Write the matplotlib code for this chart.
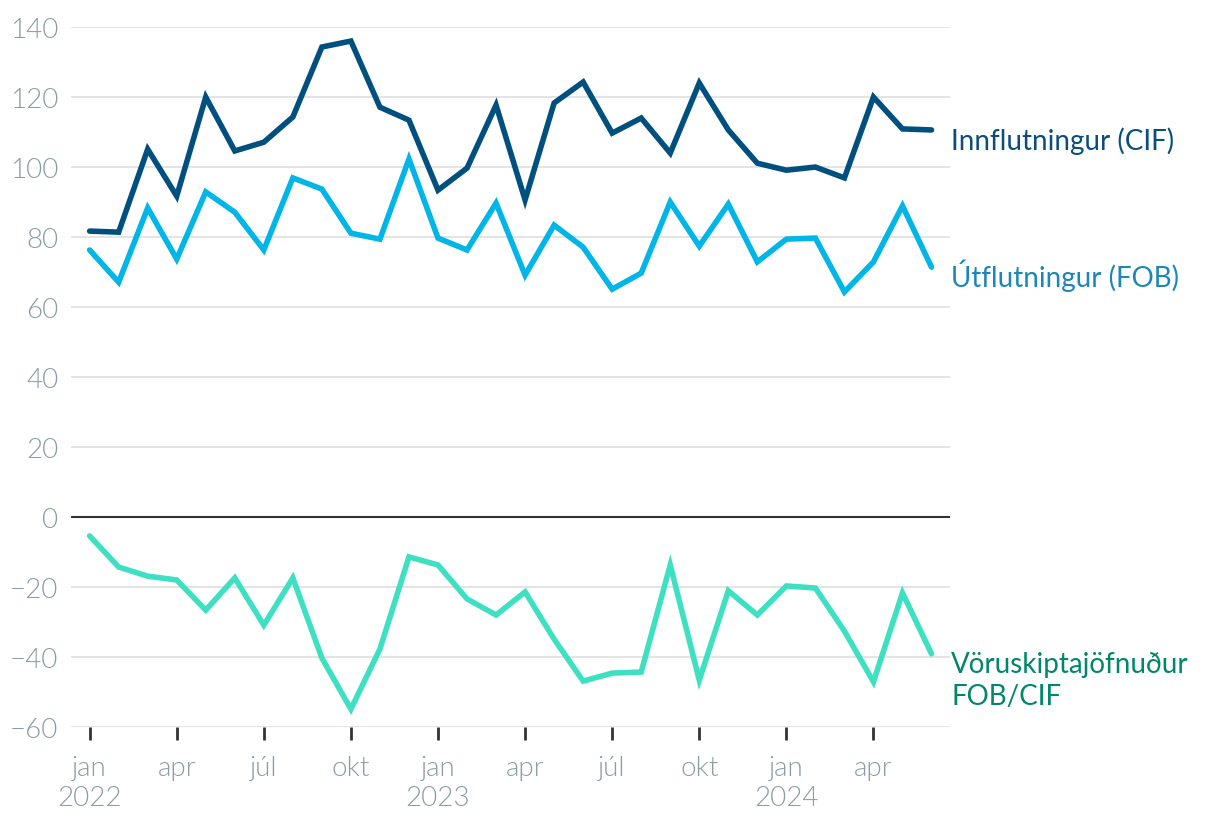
import matplotlib
matplotlib.use("Agg")
import matplotlib.pyplot as plt
from matplotlib import font_manager
import numpy as np

tick_labels = ["jan\n2022", "apr", "júl", "okt", "jan\n2023", "apr", "júl", "okt", "jan\n2024", "apr"]
tick_pos = [0, 3, 6, 9, 12, 15, 18, 21, 24, 27]

innflutningur = [81.7, 81.4, 105.1, 91.7, 120.0, 104.6, 107.1, 114.3, 134.3, 136.0,
                 117.1, 113.4, 93.4, 99.7, 117.7, 90.6, 118.3, 124.3, 109.7, 114.0,
                 104.0, 124.0, 110.6, 101.1, 99.1, 100.0, 96.9, 120.0, 110.9, 110.6]
utflutningur = [76.3, 67.1, 88.3, 73.7, 92.9, 87.1, 76.3, 96.9, 93.7, 81.1,
                79.4, 102.3, 79.7, 76.3, 89.7, 69.1, 83.4, 77.1, 65.1, 69.7,
                90.0, 77.4, 89.4, 72.9, 79.4, 79.7, 64.3, 72.9, 88.9, 71.4]
joefnudur = [-5.4, -14.3, -16.9, -18.0, -26.6, -17.4, -30.9, -17.4, -40.3, -54.9,
             -37.7, -11.4, -13.7, -23.4, -28.0, -21.4, -34.9, -46.9, -44.6, -44.3,
             -13.7, -46.6, -21.1, -28.0, -19.7, -20.3, -32.6, -47.1, -21.7, -39.1]

series_names = ["Innflutningur (CIF)", "Útflutningur (FOB)", "Vöruskiptajöfnuður\nFOB/CIF"]

plt.rcParams['font.family'] = ['Lato', 'DejaVu Sans']

# locate Lato Light file if available
light_file = None
for f in font_manager.findSystemFonts():
    base = f.split("/")[-1].lower()
    if "lato" in base and "light" in base and "italic" not in base:
        light_file = f
        break
FS = 20
if light_file:
    tick_fp = font_manager.FontProperties(fname=light_file, size=FS)
else:
    tick_fp = font_manager.FontProperties(family="Lato", weight="normal", size=FS)

fig = plt.figure(figsize=(12.2, 8.28), dpi=100)
ax = fig.add_axes([0.058, 0.1208, 0.721, 0.8453])

x = np.arange(len(innflutningur))
kw = dict(lw=4.0, solid_joinstyle="miter", solid_capstyle="round", zorder=3)
ax.plot(x, innflutningur, color="#00507f", **kw)
ax.plot(x, utflutningur, color="#00b5e8", **kw)
ax.plot(x, joefnudur, color="#3ee0c2", **kw)

ax.set_xlim(-0.65, 29.65)
ax.set_ylim(-60, 140)
ax.set_yticks(np.arange(-60, 141, 20))
ax.set_yticklabels([("\u2212" + str(abs(v))) if v < 0 else str(v) for v in range(-60, 141, 20)])
ax.grid(axis="y", color="#e4e4e4", lw=1.4, zorder=0)
ax.axhline(0, color="#333333", lw=1.5, zorder=2)
for s in ax.spines.values():
    s.set_visible(False)
ax.tick_params(axis="y", length=0, pad=9, labelcolor="#8a9ca4")
ax.set_xticks(tick_pos)
ax.set_xticklabels(tick_labels)
ax.tick_params(axis="x", length=9, width=2, color="#333333", pad=11, labelcolor="#8a9ca4")
for lbl in ax.get_xticklabels() + ax.get_yticklabels():
    lbl.set_fontproperties(tick_fp)
    lbl.set_linespacing(1.28)

label_colors = ["#0a4f7c", "#1c86b9", "#00876b"]
label_y = [107.8, 69.2, -46.6]
for name, yv, c in zip(series_names, label_y, label_colors):
    ax.annotate(name, xy=(1.0, yv), xycoords=("axes fraction", "data"),
                xytext=(0.5, 0), textcoords="offset points",
                ha="left", va="center", fontsize=FS, color=c, linespacing=1.28,
                annotation_clip=False)

fig.savefig("out.png", dpi=100, facecolor="white")
